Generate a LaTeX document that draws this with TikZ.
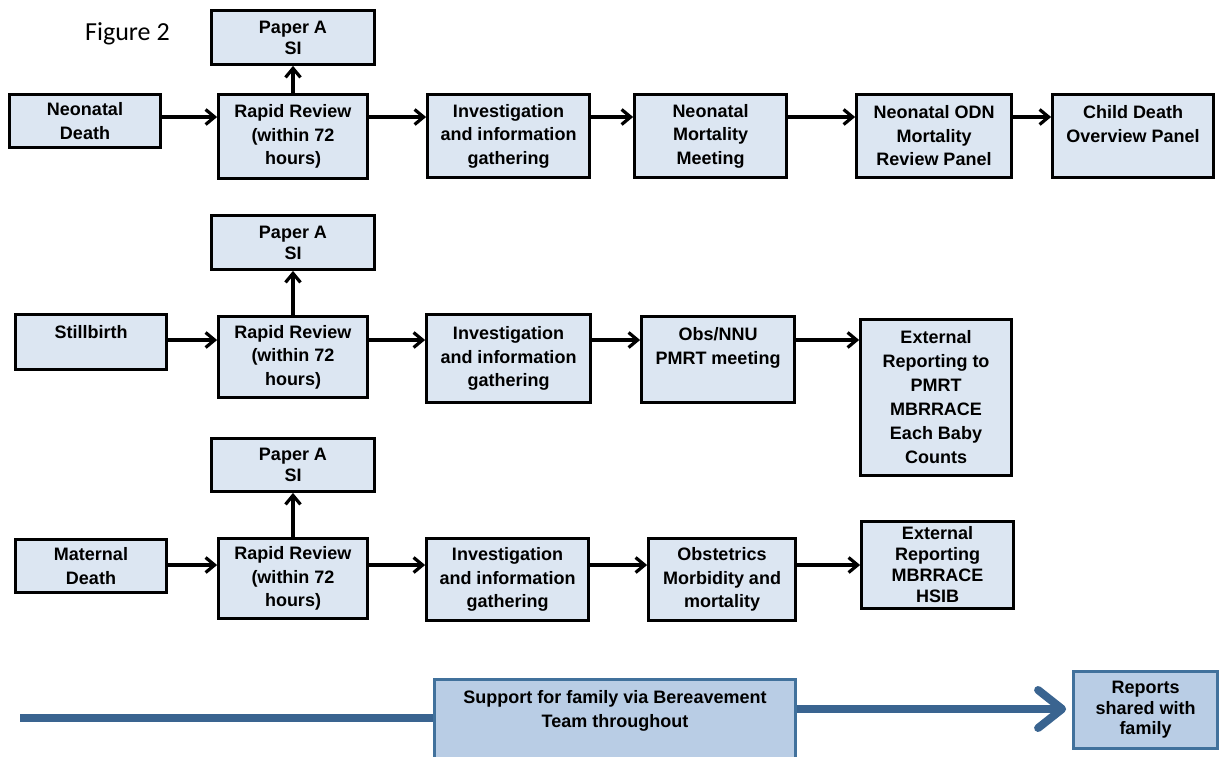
\documentclass[tikz,border=0pt]{standalone}
\usepackage{fontspec}
\setmainfont{Liberation Sans}
\newfontfamily\calibri{Carlito}
\usetikzlibrary{arrows.meta}
\definecolor{boxfill}{HTML}{DCE6F2}
\definecolor{supfill}{HTML}{B9CDE5}
\definecolor{supline}{HTML}{3A6490}
\definecolor{supborder}{HTML}{41719C}
\newcommand{\tp}[3]{\parbox[c][#1][t]{#2}{\centering\strut #3}}
\begin{document}
\begin{tikzpicture}[x=1pt,y=-1pt,
  box/.style={draw=black, line width=2.8pt, fill=boxfill, inner sep=0pt, align=center,
    font=\bfseries\fontsize{18}{23.5}\selectfont},
  tight/.style={font=\bfseries\fontsize{18}{21}\selectfont},
  blbox/.style={draw=supborder, line width=2.8pt, fill=supfill, inner sep=0pt, align=center,
    font=\bfseries\fontsize{18}{23.5}\selectfont},
  flow/.style={line width=3.2pt, -{Straight Barb[length=9pt,width=15pt]}},
  bigline/.style={draw=supline, line width=8pt}]
\fill[white] (0,0) rectangle (1220,756);
\clip (0,0) rectangle (1220,756);

\node[font=\calibri\fontsize{26}{30}\selectfont, anchor=base west, inner sep=0pt] (fig) at (85,40) {Figure 2};

% Row 1
\node[box,tight,minimum width=163pt,minimum height=54pt] (pa1) at (293,37.5) {Paper A\\SI};
\node[box,minimum width=151pt,minimum height=53pt] (nd) at (85,121) {Neonatal\\Death};
\node[box,minimum width=149pt,minimum height=84pt] (rr1) at (293,136.5) {Rapid Review\\(within 72\\hours)};
\node[box,minimum width=162pt,minimum height=83pt] (ig1) at (508.5,136) {Investigation\\and information\\gathering};
\node[box,minimum width=152pt,minimum height=83pt] (nmm) at (710.5,136) {Neonatal\\Mortality\\Meeting};
\node[box,minimum width=155pt,minimum height=83pt] (odn) at (934,136) {Neonatal ODN\\Mortality\\Review Panel};
\node[box,minimum width=161pt,minimum height=83pt] (cd) at (1133,136) {\tp{67pt}{160pt}{Child Death\\Overview Panel}};

% Row 2
\node[box,tight,minimum width=163pt,minimum height=54pt] (pa2) at (293,242.5) {Paper A\\SI};
\node[box,minimum width=151pt,minimum height=55pt] (sb) at (91,342) {\tp{39pt}{150pt}{Stillbirth}};
\node[box,minimum width=149pt,minimum height=81pt] (rr2) at (293,357) {Rapid Review\\(within 72\\hours)};
\node[box,minimum width=164pt,minimum height=88pt] (ig2) at (508.5,358.5) {Investigation\\and information\\gathering};
\node[box,minimum width=153pt,minimum height=86pt] (obs) at (718,359.5) {\tp{70pt}{150pt}{Obs/NNU\\PMRT meeting}};
\node[box,minimum width=151pt,minimum height=156pt,font=\bfseries\fontsize{18}{24}\selectfont] (ext2) at (936,397.5) {External\\Reporting to\\PMRT\\MBRRACE\\Each Baby\\Counts};

% Row 3
\node[box,tight,minimum width=163pt,minimum height=53pt] (pa3) at (293,465) {Paper A\\SI};
\node[box,minimum width=151pt,minimum height=53pt] (md) at (91,566) {Maternal\\Death};
\node[box,minimum width=149pt,minimum height=80pt] (rr3) at (293,578.5) {Rapid Review\\(within 72\\hours)};
\node[box,minimum width=162pt,minimum height=82pt] (ig3) at (507.5,579.5) {Investigation\\and information\\gathering};
\node[box,minimum width=147pt,minimum height=82pt] (ob) at (722,579.5) {Obstetrics\\Morbidity and\\mortality};
\node[box,tight,minimum width=152pt,minimum height=87pt] (ext3) at (937.5,565) {External\\Reporting\\MBRRACE\\HSIB};

% Bottom
\node[blbox,minimum width=361pt,minimum height=95pt] (sup) at (615,727) {\tp{79pt}{355pt}{Support for family via Bereavement\\Team throughout}};
\node[blbox,minimum width=144pt,minimum height=77pt,font=\bfseries\fontsize{18}{20.5}\selectfont] (rep) at (1145.5,710) {Reports\\shared with\\family};

% Row coordinates
\coordinate (y1) at (0,117);
\coordinate (y2) at (0,340);
\coordinate (y3) at (0,565);
\coordinate (ls) at (20,718);
\coordinate (ra) at (0,709);

% Arrows row 1
\draw[flow] (nd.east |- y1) -- (rr1.west |- y1);
\draw[flow] (rr1.east |- y1) -- (ig1.west |- y1);
\draw[flow] (ig1.east |- y1) -- (nmm.west |- y1);
\draw[flow] (nmm.east |- y1) -- (odn.west |- y1);
\draw[flow] (odn.east |- y1) -- (cd.west |- y1);
\draw[flow] (rr1.north) -- (pa1.south);

% Arrows row 2
\draw[flow] (sb.east |- y2) -- (rr2.west |- y2);
\draw[flow] (rr2.east |- y2) -- (ig2.west |- y2);
\draw[flow] (ig2.east |- y2) -- (obs.west |- y2);
\draw[flow] (obs.east |- y2) -- (ext2.west |- y2);
\draw[flow] (rr2.north) -- (pa2.south);

% Arrows row 3
\draw[flow] (md.east |- y3) -- (rr3.west |- y3);
\draw[flow] (rr3.east |- y3) -- (ig3.west |- y3);
\draw[flow] (ig3.east |- y3) -- (ob.west |- y3);
\draw[flow] (ob.east |- y3) -- (ext3.west |- y3);
\draw[flow] (rr3.north) -- (pa3.south);

% Bottom lines
\draw[bigline] (ls) -- (sup.west |- ls);
\draw[bigline, shorten >=6pt, -{Straight Barb[length=24pt,width=38pt,round]}] (sup.east |- ra) -- (rep.west |- ra);
\end{tikzpicture}
\end{document}
